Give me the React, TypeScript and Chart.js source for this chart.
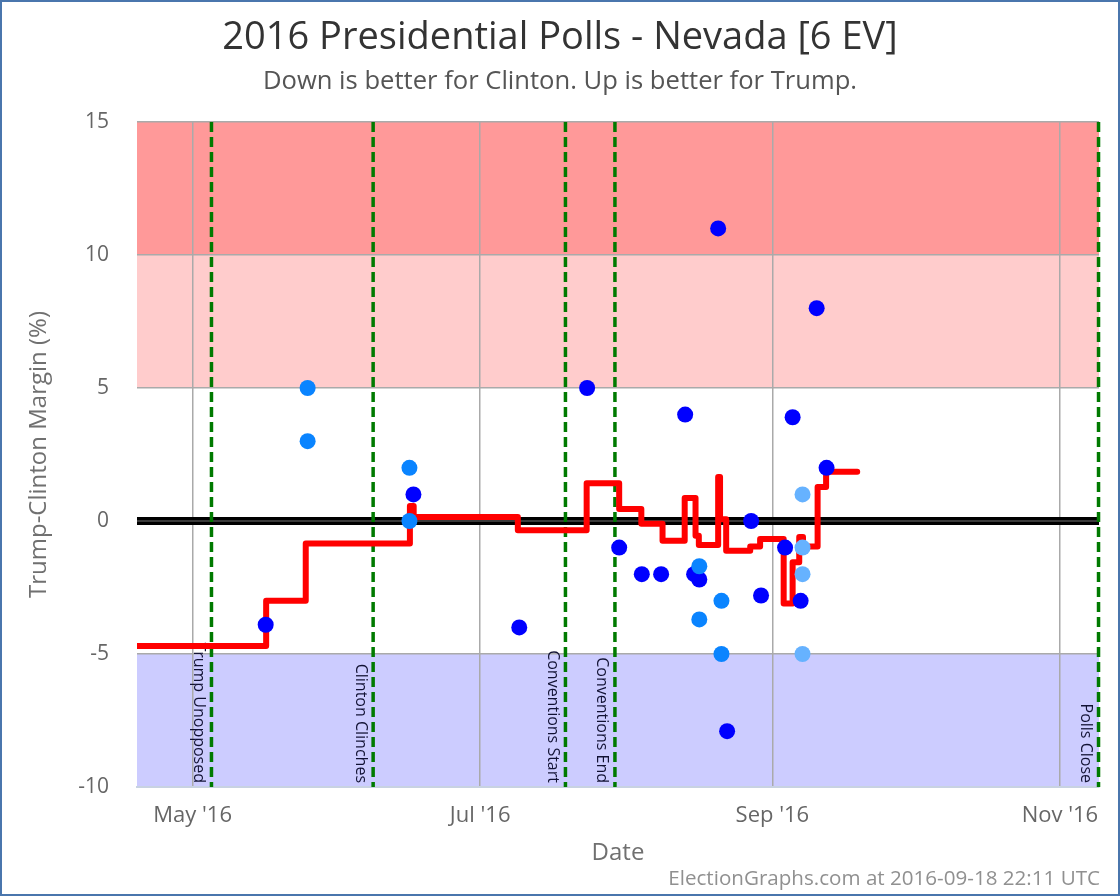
import React, { useEffect, useRef } from "react";
import { Chart, registerables } from "chart.js";

Chart.register(...registerables);

const FONT = "'Open Sans', 'DejaVu Sans', sans-serif";

// Day-of-year 2016 (Jan 1 = 0)
const tickDays = [121, 182, 244, 305];
const tickLabels = ["May '16", "Jul '16", "Sep '16", "Nov '16"];
const xMin = 109.2;
const xMax = 313.3;

const yTicks = [-10, -5, 0, 5, 10, 15];

// Poll average (step line)
const avgDays = [109.2, 136.6, 145.0, 167.1, 167.9, 190.0, 204.6, 211.5, 216.2, 220.7, 225.4, 227.7, 228.4, 232.5, 232.9, 234.2, 239.3, 241.4, 246.4, 248.3, 249.7, 250.5, 253.6, 255.4, 262.0];
const avgMargins = [-4.7, -3.0, -0.85, 0.56, 0.15, -0.35, 1.42, 0.45, -0.1, -0.74, 0.86, -0.55, -0.9, 1.65, 0.07, -1.12, -0.96, -0.68, -3.1, -1.55, -0.6, -0.96, 1.28, 1.85, 1.85];

// Individual polls (three shades)
const darkDays = [136.5, 167.85, 190.3, 204.7, 211.5, 216.3, 220.4, 225.5, 227.4, 228.5, 232.5, 234.4, 239.5, 241.6, 246.7, 248.3, 250.0, 253.4, 255.5];
const darkMargins = [-3.9, 1.0, -4.0, 5.0, -1.0, -2.0, -2.0, 4.0, -2.0, -2.2, 11.0, -7.9, 0.0, -2.8, -1.0, 3.9, -3.0, 8.0, 2.0];

const midDays = [145.4, 145.4, 167.0, 167.0, 228.5, 228.5, 233.2, 233.2];
const midMargins = [5.0, 3.0, 2.0, 0.0, -1.7, -3.7, -3.0, -5.0];

const lightDays = [250.4, 250.4, 250.4, 250.4];
const lightMargins = [1.0, -1.0, -2.0, -5.0];

// Events
const eventDays = [125.0, 159.3, 200.1, 210.6, 313.2];
const eventLabels = ["Trump Unopposed", "Clinton Clinches", "Conventions Start", "Conventions End", "Polls Close"];

// Bands
const bandFrom = [10, 5, -10];
const bandTo = [15, 10, -5];
const bandColors = ["#ff9999", "#ffcccc", "#ccccff"];

const titleText = "2016 Presidential Polls - Nevada [6 EV]";
const subtitleText = "Down is better for Clinton. Up is better for Trump.";
const footerText = "ElectionGraphs.com at 2016-09-18 22:11 UTC";

const pts = (xs: number[], ys: number[]) => xs.map((x, i) => ({ x, y: ys[i] }));

const decor = {
  id: "decor",
  beforeDraw(chart: any) {
    const { ctx, chartArea: a, scales } = chart;
    const y = scales.y;
    ctx.save();
    for (let i = 0; i < bandFrom.length; i++) {
      const yt = y.getPixelForValue(bandTo[i]);
      const yb = y.getPixelForValue(bandFrom[i]);
      ctx.fillStyle = bandColors[i];
      ctx.fillRect(a.left, yt, a.right - a.left, yb - yt);
    }
    ctx.restore();
  },
  beforeDatasetsDraw(chart: any) {
    const { ctx, chartArea: a, scales } = chart;
    const x = scales.x;
    const y = scales.y;
    ctx.save();
    const y0 = y.getPixelForValue(0);
    ctx.strokeStyle = "#000000";
    ctx.lineWidth = 8;
    ctx.beginPath();
    ctx.moveTo(a.left, y0);
    ctx.lineTo(a.right, y0);
    ctx.stroke();
    ctx.strokeStyle = "#3a3a3a";
    ctx.lineWidth = 2;
    ctx.beginPath();
    ctx.moveTo(a.left, y0);
    ctx.lineTo(a.right, y0);
    ctx.stroke();

    for (let i = 0; i < eventDays.length; i++) {
      const px = x.getPixelForValue(eventDays[i]);
      ctx.strokeStyle = "#007a00";
      ctx.lineWidth = 3.5;
      ctx.setLineDash([10, 5]);
      ctx.beginPath();
      ctx.moveTo(px, a.top);
      ctx.lineTo(px, a.bottom);
      ctx.stroke();
      ctx.setLineDash([]);
    }
    for (let i = 0; i < eventDays.length; i++) {
      const px = x.getPixelForValue(eventDays[i]);
      ctx.save();
      ctx.translate(px - 13, a.bottom - 4);
      ctx.rotate(Math.PI / 2);
      ctx.font = `16px ${FONT}`;
      ctx.fillStyle = "#111133";
      ctx.textAlign = "right";
      ctx.textBaseline = "middle";
      ctx.fillText(eventLabels[i], 0, 0);
      ctx.restore();
    }
    ctx.restore();
  },
  afterDraw(chart: any) {
    const { ctx, width } = chart;
    ctx.save();
    ctx.textAlign = "center";
    ctx.textBaseline = "middle";
    ctx.fillStyle = "#333333";
    ctx.font = `38px ${FONT}`;
    ctx.fillText(titleText, width / 2, 36);
    ctx.fillStyle = "#555555";
    ctx.font = `25.6px ${FONT}`;
    ctx.fillText(subtitleText, width / 2, 80);
    ctx.fillStyle = "#909090";
    ctx.font = `20.6px ${FONT}`;
    ctx.textAlign = "right";
    ctx.fillText(footerText, 1098, 877);
    ctx.restore();
  },
};

export default function App() {
  const ref = useRef<HTMLCanvasElement | null>(null);
  useEffect(() => {
    if (!ref.current) return;
    const chart = new Chart(ref.current, {
      type: "line",
      data: {
        datasets: [
          {
            label: "light",
            data: pts(lightDays, lightMargins),
            showLine: false,
            pointRadius: 8,
            pointBorderWidth: 0,
            pointBackgroundColor: "#66b2ff",
            pointBorderColor: "#66b2ff",
          },
          {
            label: "mid",
            data: pts(midDays, midMargins),
            showLine: false,
            pointRadius: 8,
            pointBorderWidth: 0,
            pointBackgroundColor: "#0a84ff",
            pointBorderColor: "#0a84ff",
          },
          {
            label: "dark",
            data: pts(darkDays, darkMargins),
            showLine: false,
            pointRadius: 8,
            pointBorderWidth: 0,
            pointBackgroundColor: "#0000ff",
            pointBorderColor: "#0000ff",
          },
          {
            label: "avg",
            data: pts(avgDays, avgMargins),
            stepped: true,
            borderColor: "#ff0000",
            borderWidth: 6,
            borderCapStyle: "round",
            borderJoinStyle: "round",
            pointRadius: 0,
            fill: false,
          },
        ],
      },
      options: {
        animation: false,
        responsive: false,
        layout: { padding: { left: 0, top: 120, right: 19, bottom: 0 } },
        plugins: {
          legend: { display: false },
          tooltip: { enabled: false },
          title: { display: false },
        },
        scales: {
          x: {
            type: "linear",
            min: xMin,
            max: xMax,
            afterBuildTicks: (scale: any) => {
              scale.ticks = tickDays.map((v) => ({ value: v }));
            },
            afterFit: (scale: any) => {
              scale.height = 107;
            },
            ticks: {
              padding: 16,
              color: "#666666",
              font: { family: FONT, size: 22 },
              maxRotation: 0,
              autoSkip: false,
              callback: (v: any) => {
                const i = tickDays.indexOf(Number(v));
                return i >= 0 ? tickLabels[i] : "";
              },
            },
            grid: { color: "#aaaaaa", lineWidth: 1.5, drawTicks: false },
            border: { display: true, color: "#c8d2e2", width: 2 },
            title: {
              display: true,
              text: "Date",
              color: "#707070",
              font: { family: FONT, size: 24 },
              padding: { top: 0, bottom: 26 },
            },
          },
          y: {
            type: "linear",
            min: -10,
            max: 15,
            afterBuildTicks: (scale: any) => {
              scale.ticks = yTicks.map((v) => ({ value: v }));
            },
            afterFit: (scale: any) => {
              scale.width = 135;
            },
            ticks: {
              padding: 28,
              color: "#666666",
              font: { family: FONT, size: 21 },
            },
            grid: {
              color: (c: any) => (c.tick && c.tick.value === -10 ? "rgba(0,0,0,0)" : "#aaaaaa"),
              lineWidth: 1.5,
              drawTicks: false,
            },
            border: { display: false },
            title: {
              display: true,
              text: "Trump-Clinton Margin (%)",
              color: "#707070",
              font: { family: FONT, size: 24 },
              padding: { top: 23, bottom: 0 },
            },
          },
        },
      },
      plugins: [decor],
    });
    return () => chart.destroy();
  }, []);

  return (
    <div
      style={{
        position: "absolute",
        left: 0,
        top: 0,
        width: 1120,
        height: 896,
        boxSizing: "border-box",
        border: "2px solid #4a76ad",
        background: "#ffffff",
      }}
    >
      <canvas ref={ref} width={1116} height={892} style={{ display: "block", width: 1116, height: 892 }} />
    </div>
  );
}
